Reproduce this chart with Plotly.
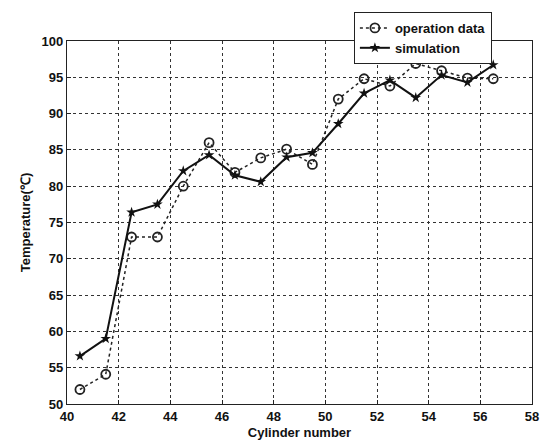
import plotly.graph_objects as go

cylinders = [40.5, 41.5, 42.5, 43.5, 44.5, 45.5, 46.5, 47.5, 48.5, 49.5, 50.5, 51.5, 52.5, 53.5, 54.5, 55.5, 56.5]
operation_data = [52.0, 54.1, 73.0, 73.0, 80.0, 86.0, 81.9, 83.9, 85.1, 83.0, 92.0, 94.8, 93.8, 96.9, 95.9, 94.9, 94.8]
simulation = [56.6, 59.0, 76.4, 77.5, 82.1, 84.3, 81.5, 80.6, 84.0, 84.6, 88.6, 92.8, 94.6, 92.2, 95.3, 94.3, 96.7]

x_ticks = [40, 42, 44, 46, 48, 50, 52, 54, 56, 58]
y_ticks = [50, 55, 60, 65, 70, 75, 80, 85, 90, 95, 100]

fig = go.Figure()
fig.add_trace(go.Scatter(
    x=cylinders, y=operation_data, name="<b>operation data</b>", mode="lines+markers",
    line=dict(color="#222", width=1.5, dash="dot"),
    marker=dict(symbol="circle-open", size=9, color="#222", line=dict(width=1.8)),
))
fig.add_trace(go.Scatter(
    x=cylinders, y=simulation, name="<b>simulation</b>", mode="lines+markers",
    line=dict(color="#111", width=2),
    marker=dict(symbol="star", size=8, color="#111"),
))

axis_common = dict(
    showline=True, linecolor="#222", linewidth=1.2, mirror=True,
    showgrid=True, gridcolor="#333", griddash="dot", gridwidth=1,
    ticks="inside", ticklen=4, tickcolor="#222", zeroline=False,
    tickfont=dict(family="Liberation Sans, Arial", size=13, color="#111"),
    automargin=False,
)

fig.update_layout(
    width=548, height=445,
    margin=dict(l=67, r=16, t=38, b=41),
    paper_bgcolor="white", plot_bgcolor="white",
    font=dict(family="Liberation Sans, Arial", color="#111"),
    xaxis=dict(range=[40, 58], tickvals=x_ticks,
               ticktext=[f"<b>{v}</b>" for v in x_ticks],
               title=dict(text="<b>Cylinder number</b>", font=dict(size=13), standoff=5),
               **axis_common),
    yaxis=dict(range=[50, 100], tickvals=y_ticks,
               ticktext=[f"<b>{v}</b>" for v in y_ticks],
               title=dict(text="<b>Temperature(℃)</b>", font=dict(size=13), standoff=8),
               **axis_common),
    legend=dict(x=0.617, y=1.08, xanchor="left", yanchor="top",
                bgcolor="white", bordercolor="#222", borderwidth=1,
                font=dict(size=13, family="Liberation Sans, Arial"),
                tracegroupgap=0, itemwidth=30),
    showlegend=True,
)

fig.write_html("out.html")
